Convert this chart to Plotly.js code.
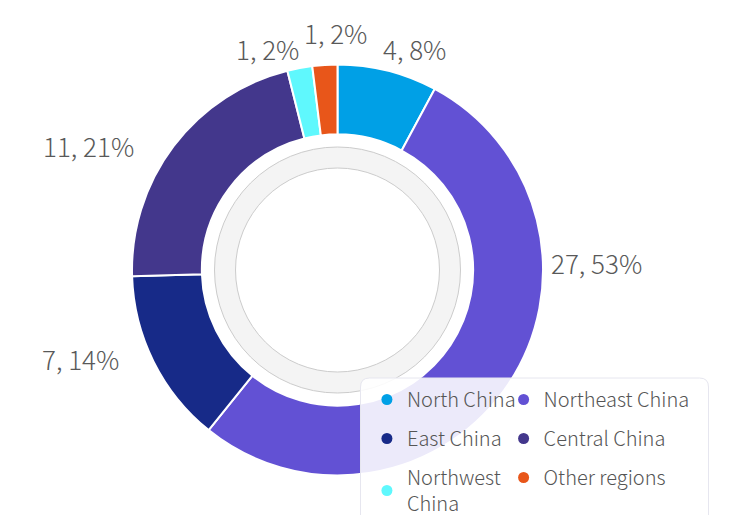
<!DOCTYPE html>
<html>
<head>
<meta charset="utf-8">
<script src="https://cdn.plot.ly/plotly-3.0.1.min.js"></script>
<style>html,body{margin:0;padding:0;background:#fff;}#chart{width:732px;height:515px;}</style>
</head>
<body>
<div id="chart"></div>
<script>
// ---- data ----
const categories = ['North China', 'Northeast China', 'East China', 'Central China', 'Northwest China', 'Other regions'];
const legendNames = ['North China', 'Northeast China', 'East China', 'Central China', 'Northwest<br>China', 'Other regions'];
const counts = [4, 27, 7, 11, 1, 1];
const percents = [8, 53, 14, 21, 2, 2];

// ---- styles / layout config ----
const colors = ['#00a0e6', '#6251d4', '#172a88', '#43378c', '#5ff8fd', '#e8561a'];
const legendColumn = ['legend', 'legend2', 'legend', 'legend2', 'legend', 'legend2'];
const FONT = "'Noto Sans CJK SC', 'Noto Sans', sans-serif";
const W = 732, H = 515;
const M = {l: 131.5, r: 188.5, t: 64, b: 39, autoexpand: false};
const PW = W - M.l - M.r, PH = H - M.t - M.b;
const px2x = function (px) { return (px - M.l) / PW; };
const py2y = function (py) { return (H - M.b - py) / PH; };
// label centres (pixels) as laid out in the reference
const labelPx = [[415, 49], [597, 262], [80, 358], [88, 145], [267, 48], [335, 32]];

// rounded legend box (pixels relative to plot-area top-left)
function roundedBox(x0, y0, x1, y1, r) {
  const Y0 = -y0, Y1 = -y1;
  return 'M' + (x0 + r) + ',' + Y0 +
    ' L' + (x1 - r) + ',' + Y0 + ' Q' + x1 + ',' + Y0 + ' ' + x1 + ',' + (Y0 - r) +
    ' L' + x1 + ',' + (Y1 + r) + ' Q' + x1 + ',' + Y1 + ' ' + (x1 - r) + ',' + Y1 +
    ' L' + (x0 + r) + ',' + Y1 + ' Q' + x0 + ',' + Y1 + ' ' + x0 + ',' + (Y1 + r) +
    ' L' + x0 + ',' + (Y0 - r) + ' Q' + x0 + ',' + Y0 + ' ' + (x0 + r) + ',' + Y0 + ' Z';
}

const traces = [{
  type: 'pie',
  labels: categories,
  values: counts,
  sort: false,
  direction: 'clockwise',
  rotation: 0,
  hole: 0.66,
  marker: {colors: colors, line: {color: '#ffffff', width: 2}},
  textinfo: 'none',
  showlegend: false,
  automargin: false,
  hoverinfo: 'label+value'
}];

categories.forEach(function (c, i) {
  traces.push({
    type: 'scatter',
    mode: 'markers',
    x: [null], y: [null],
    name: legendNames[i],
    legend: legendColumn[i],
    legendgroup: 'g' + i,
    marker: {color: colors[i], size: 11, symbol: 'circle'},
    showlegend: true,
    hoverinfo: 'skip'
  });
});

const annotations = categories.map(function (c, i) {
  return {
    xref: 'paper', yref: 'paper',
    x: px2x(labelPx[i][0]), y: py2y(labelPx[i][1]),
    xanchor: 'center', yanchor: 'middle',
    text: counts[i] + ', ' + percents[i] + '%',
    showarrow: false,
    font: {family: FONT, size: 26, color: '#595959', weight: 300}
  };
});

const legendCommon = {
  orientation: 'v',
  bgcolor: 'rgba(0,0,0,0)',
  borderwidth: 0,
  font: {family: FONT, size: 20, color: '#555555', weight: 300},
  traceorder: 'grouped',
  tracegroupgap: 10,
  yanchor: 'top', xanchor: 'left'
};

const layout = {
  width: W, height: H,
  margin: M,
  paper_bgcolor: '#ffffff',
  plot_bgcolor: 'rgba(0,0,0,0)',
  xaxis: {visible: false, range: [0, 1]},
  yaxis: {visible: false, range: [0, 1]},
  showlegend: true,
  legend: Object.assign({}, legendCommon, {x: px2x(367), y: py2y(380)}),
  legend2: Object.assign({}, legendCommon, {x: px2x(504), y: py2y(380)}),
  annotations: annotations,
  shapes: [
    {type: 'circle', xref: 'paper', yref: 'paper', xsizemode: 'pixel', ysizemode: 'pixel',
     xanchor: 0.5, yanchor: 0.5, x0: -123, x1: 123, y0: -123, y1: 123,
     fillcolor: '#f4f4f4', line: {color: '#cccccc', width: 1}, layer: 'below'},
    {type: 'circle', xref: 'paper', yref: 'paper', xsizemode: 'pixel', ysizemode: 'pixel',
     xanchor: 0.5, yanchor: 0.5, x0: -102, x1: 102, y0: -102, y1: 102,
     fillcolor: '#ffffff', line: {color: '#cccccc', width: 1}, layer: 'below'},
    {type: 'path', xref: 'paper', yref: 'paper', xsizemode: 'pixel', ysizemode: 'pixel',
     xanchor: 0, yanchor: 1,
     path: roundedBox(360 - M.l, 378 - M.t, 708 - M.l, 540 - M.t, 9),
     fillcolor: 'rgba(255,255,255,0.88)', line: {color: '#e6e6ef', width: 1}, layer: 'above'}
  ]
};

Plotly.newPlot('chart', traces, layout, {displayModeBar: false, staticPlot: true});
</script>
</body>
</html>
